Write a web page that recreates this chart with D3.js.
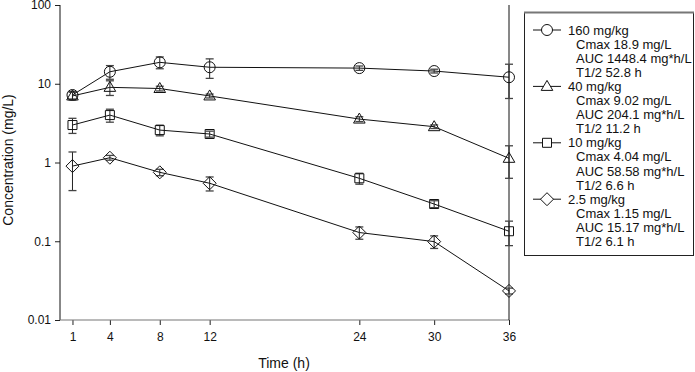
<!DOCTYPE html>
<html>
<head>
<meta charset="utf-8">
<script src="https://cdn.jsdelivr.net/npm/d3@7"></script>
<style>
  body { margin: 0; background: #fff; }
  svg { display: block; font-family: "Liberation Sans", Arial, sans-serif; }
</style>
</head>
<body>
<svg id="chart" width="695" height="372"></svg>
<script>
// sampling times (h)
var times = [1, 4, 8, 12, 24, 30, 36];
var xTicks = [1, 4, 8, 12, 24, 30, 36];
var yTicks = [0.01, 0.1, 1, 10, 100];
var yTickLabels = ["0.01", "0.1", "1", "10", "100"];

// mean concentrations (mg/L) and SD per dose
var doses = ["160 mg/kg", "40 mg/kg", "10 mg/kg", "2.5 mg/kg"];
var conc160 = [7.2, 14.2, 18.7, 16.2, 15.8, 14.5, 12.1];
var sd160   = [0.8, 2.8, 3.2, 4.5, 1.0, 0.8, 5.6];
var conc40  = [7.0, 9.0, 8.7, 7.0, 3.56, 2.85, 1.13];
var sd40    = [0.8, 1.9, 0.6, 0.4, 0.25, 0.15, 0.5];
var conc10  = [2.99, 4.0, 2.58, 2.3, 0.63, 0.297, 0.134];
var sd10    = [0.65, 0.75, 0.4, 0.2, 0.1, 0.03, 0.046];
var conc2_5 = [0.90, 1.15, 0.75, 0.545, 0.129, 0.099, 0.0234];
var sd2_5   = [0.46, 0.08, 0.07, 0.11, 0.023, 0.018, 0.002];

var legendLines = [
  ["160 mg/kg", "Cmax 18.9 mg/L", "AUC 1448.4 mg*h/L", "T1/2 52.8 h"],
  ["40 mg/kg", "Cmax 9.02 mg/L", "AUC 204.1 mg*h/L", "T1/2 11.2 h"],
  ["10 mg/kg", "Cmax 4.04 mg/L", "AUC 58.58 mg*h/L", "T1/2 6.6 h"],
  ["2.5 mg/kg", "Cmax 1.15 mg/L", "AUC 15.17 mg*h/L", "T1/2 6.1 h"]
];

var series = [
  {name: doses[0], mean: conc160, sd: sd160, sym: "circle"},
  {name: doses[1], mean: conc40, sd: sd40, sym: "triangle"},
  {name: doses[2], mean: conc10, sd: sd10, sym: "square"},
  {name: doses[3], mean: conc2_5, sd: sd2_5, sym: "diamond"}
];

var svg = d3.select("#chart");
var plotLeft = 60, plotRight = 509, plotTop = 5, plotBottom = 320;

var x = d3.scaleLinear().domain([0, 36]).range([plotLeft, plotRight]);
var y = d3.scaleLog().domain([0.01, 100]).range([plotBottom, plotTop]);

// symbol path centred at 0,0
function symbolPath(sym) {
  if (sym === "circle") return d3.symbol().type(d3.symbolCircle).size(Math.PI * 5.5 * 5.5)();
  if (sym === "square") return "M-4.5,-4.5H4.5V4.5H-4.5Z";
  if (sym === "triangle") return "M0,-6L5.8,4H-5.8Z";
  return "M0,-6.5L6.5,0L0,6.5L-6.5,0Z";
}

// axes
var yAxis = d3.axisLeft(y).tickValues(yTicks).tickSize(5).tickFormat(function(d, i) { return yTickLabels[i]; });
var gy = svg.append("g").attr("transform", "translate(" + plotLeft + ",0)").call(yAxis);
var xAxis = d3.axisBottom(x).tickValues(xTicks).tickSize(5).tickFormat(d3.format("d"));
var gx = svg.append("g").attr("transform", "translate(0," + plotBottom + ")").call(xAxis);

[gx, gy].forEach(function(g) {
  g.select(".domain").remove();
  g.selectAll("text").attr("font-size", 12).attr("font-family", "Liberation Sans, Arial, sans-serif").attr("fill", "#111");
  g.selectAll("line").attr("stroke", "#222");
});
gx.selectAll("text").attr("dy", null).attr("y", 21);
gy.selectAll("text").attr("x", -9);

svg.append("line").attr("x1", plotLeft).attr("x2", plotLeft).attr("y1", plotTop).attr("y2", plotBottom).attr("stroke", "#111");
svg.append("line").attr("x1", plotLeft).attr("x2", plotRight).attr("y1", plotBottom).attr("y2", plotBottom).attr("stroke", "#777").attr("stroke-width", 1.2);
// right frame line
svg.append("line").attr("x1", plotRight).attr("x2", plotRight).attr("y1", plotTop).attr("y2", plotBottom).attr("stroke", "#111");

// titles
svg.append("text").attr("x", 284).attr("y", 368).attr("text-anchor", "middle")
  .attr("font-size", 14).attr("fill", "#111").text("Time (h)");
svg.append("text").attr("transform", "translate(13,160) rotate(-90)").attr("text-anchor", "middle")
  .attr("font-size", 14).attr("fill", "#111").text("Concentration (mg/L)");

var line = d3.line().x(function(d) { return x(d.t); }).y(function(d) { return y(d.v); });

series.forEach(function(s) {
  var pts = times.map(function(t, i) { return {t: t, v: s.mean[i], sd: s.sd[i]}; });
  var g = svg.append("g");
  g.append("path").datum(pts).attr("d", line).attr("fill", "none").attr("stroke", "#111").attr("stroke-width", 1);

  // error bars
  var eb = g.selectAll("g.eb").data(pts).enter().append("g").attr("class", "eb");
  eb.append("line")
    .attr("x1", function(d) { return x(d.t); }).attr("x2", function(d) { return x(d.t); })
    .attr("y1", function(d) { return y(d.v + d.sd); }).attr("y2", function(d) { return y(Math.max(d.v - d.sd, 0.011)); })
    .attr("stroke", "#222");
  eb.append("line")
    .attr("x1", function(d) { return x(d.t) - 4; }).attr("x2", function(d) { return x(d.t) + 4; })
    .attr("y1", function(d) { return y(d.v + d.sd); }).attr("y2", function(d) { return y(d.v + d.sd); })
    .attr("stroke", "#444").attr("stroke-width", 1.3);
  eb.append("line")
    .attr("x1", function(d) { return x(d.t) - 4; }).attr("x2", function(d) { return x(d.t) + 4; })
    .attr("y1", function(d) { return y(d.v - d.sd); }).attr("y2", function(d) { return y(d.v - d.sd); })
    .attr("stroke", "#444").attr("stroke-width", 1.3);

  g.selectAll("path.mk").data(pts).enter().append("path").attr("class", "mk")
    .attr("d", symbolPath(s.sym))
    .attr("transform", function(d) { return "translate(" + x(d.t) + "," + y(d.v) + ")"; })
    .attr("fill", "none").attr("stroke", "#111").attr("stroke-width", 1);
});

// legend
var lg = svg.append("g");
lg.append("rect").attr("x", 524.5).attr("y", 12.5).attr("width", 169).attr("height", 243)
  .attr("fill", "#fff").attr("stroke", "#222").attr("stroke-width", 1);
lg.append("line").attr("x1", 524).attr("x2", 694).attr("y1", 12.5).attr("y2", 12.5).attr("stroke", "#777").attr("stroke-width", 2);

series.forEach(function(s, i) {
  var base = 34.5 + i * 4 * 14.1;
  var cy = base - 4.5;
  lg.append("line").attr("x1", 533).attr("x2", 561).attr("y1", cy).attr("y2", cy).attr("stroke", "#111");
  lg.append("path").attr("d", symbolPath(s.sym)).attr("transform", "translate(547," + cy + ")")
    .attr("fill", "#fff").attr("stroke", "#111");
  legendLines[i].forEach(function(txt, j) {
    lg.append("text").attr("x", j === 0 ? 568 : 576).attr("y", base + j * 14.1)
      .attr("font-size", 13).attr("fill", "#111").text(txt);
  });
});
</script>
</body>
</html>
